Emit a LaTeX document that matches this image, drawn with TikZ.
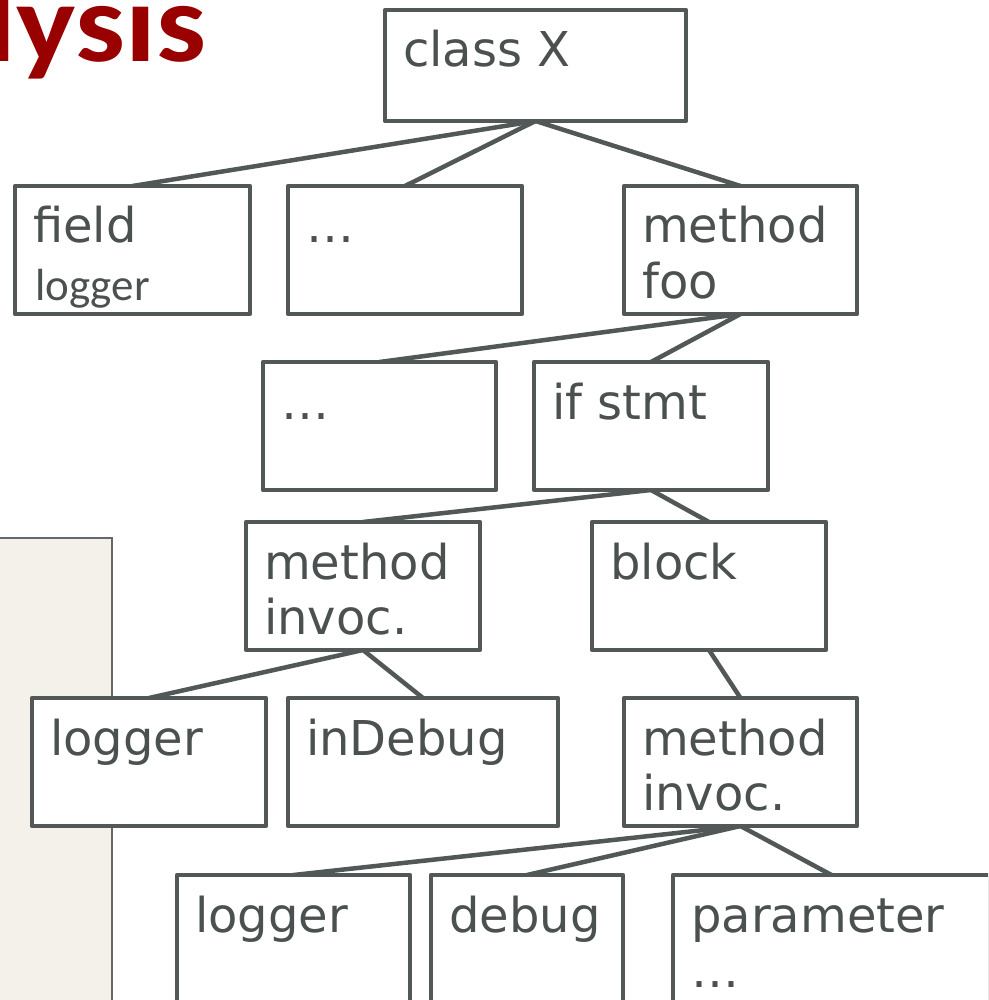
\documentclass[tikz,border=0pt]{standalone}
\usepackage{fontspec}
\setmainfont{DejaVu Sans}
\newfontfamily\calibri{Carlito}
\usetikzlibrary{fit,backgrounds}
\definecolor{edge}{RGB}{82,88,88}
\definecolor{ink}{RGB}{75,80,80}
\definecolor{titlered}{RGB}{153,0,0}
\definecolor{panel}{RGB}{244,241,234}
\definecolor{panelline}{RGB}{100,104,104}

% a tree box: name, x1, y1, x2, y2 (stroke centre line)
\newcommand{\treebox}[5]{%
  \node[tbox, fit={(#2,#3) (#4,#5)}] (#1) {};}
% first and second text line of a box
\newcommand{\lineone}[3]{\node[lbl] (#1-a) at ([xshift=18pt,yshift=-57pt]#2.north west) {#3};}
\newcommand{\linetwo}[3]{\node[lbl] (#1-b) at ([xshift=18pt,yshift=-112pt]#2.north west) {#3};}

\begin{document}
\begin{tikzpicture}[x=1pt,y=-1pt,
  tbox/.style={draw=edge, fill=white, line width=4.5pt, line join=round,
    rectangle, inner sep=0pt, outer sep=0pt},
  lbl/.style={anchor=base west, inner sep=0pt, text=ink,
    font=\fontsize{48}{55}\selectfont},
  link/.style={draw=edge, line width=4.5pt, line cap=round}]
\useasboundingbox (0,0) rectangle (988,1000);
\clip (0,0) rectangle (988,1000);

% heading, cut by the left edge
\node[anchor=base east, inner sep=0pt, text=titlered,
  font=\calibri\bfseries\fontsize{112}{116}\selectfont] (heading) at (206,62)
  {\scalebox{1.12}[1]{Analysis}};

% syntax tree boxes
\treebox{classx}{385}{10}{686}{121}
\treebox{field}{15}{186}{250}{314}
\treebox{dotsa}{288}{186}{522}{314}
\treebox{foo}{624}{186}{857}{314}
\treebox{dotsb}{263}{362}{496}{490}
\treebox{ifstmt}{534}{362}{768}{490}
\treebox{invoca}{246}{522}{480}{650}
\treebox{block}{592}{522}{826}{650}
\treebox{loggera}{32}{698}{266}{826}
\treebox{indebug}{288}{698}{558}{826}
\treebox{invocb}{624}{698}{857}{826}
\treebox{loggerb}{177}{875}{410}{1004}
\treebox{debug}{431}{875}{623}{1004}
\treebox{param}{673}{875}{990}{1004}

% labels
\lineone{classx}{classx}{class X}
\lineone{field}{field}{field}
\node[lbl, font=\calibri\fontsize{45}{55}\selectfont] (field-b) at ([xshift=20pt,yshift=-114pt]field.north west) {logger};
\lineone{dotsa}{dotsa}{…}
\lineone{foo}{foo}{method}
\linetwo{foo}{foo}{foo}
\lineone{dotsb}{dotsb}{…}
\lineone{ifstmt}{ifstmt}{if stmt}
\lineone{invoca}{invoca}{method}
\linetwo{invoca}{invoca}{invoc.}
\lineone{block}{block}{block}
\lineone{loggera}{loggera}{logger}
\lineone{indebug}{indebug}{inDebug}
\lineone{invocb}{invocb}{method}
\linetwo{invocb}{invocb}{invoc.}
\lineone{loggerb}{loggerb}{logger}
\lineone{debug}{debug}{debug}
\lineone{param}{param}{parameter}
\linetwo{param}{param}{…}

% side panel and tree edges behind the boxes
\begin{scope}[on background layer]
  \path[fill=panel, draw=panelline, line width=1.5pt] (-5,538) rectangle (112,1010);
  \draw[link] (classx.south) -- (field.north);
  \draw[link] (classx.south) -- (dotsa.north);
  \draw[link] (classx.south) -- (foo.north);
  \draw[link] (foo.south) -- (dotsb.north);
  \draw[link] (foo.south) -- (ifstmt.north);
  \draw[link] (ifstmt.south) -- (invoca.north);
  \draw[link] (ifstmt.south) -- (block.north);
  \draw[link] (invoca.south) -- (loggera.north);
  \draw[link] (invoca.south) -- (indebug.north);
  \draw[link] (block.south) -- (invocb.north);
  \draw[link] (invocb.south) -- (loggerb.north);
  \draw[link] (invocb.south) -- (debug.north);
  \draw[link] (invocb.south) -- (param.north);
\end{scope}
\end{tikzpicture}
\end{document}
